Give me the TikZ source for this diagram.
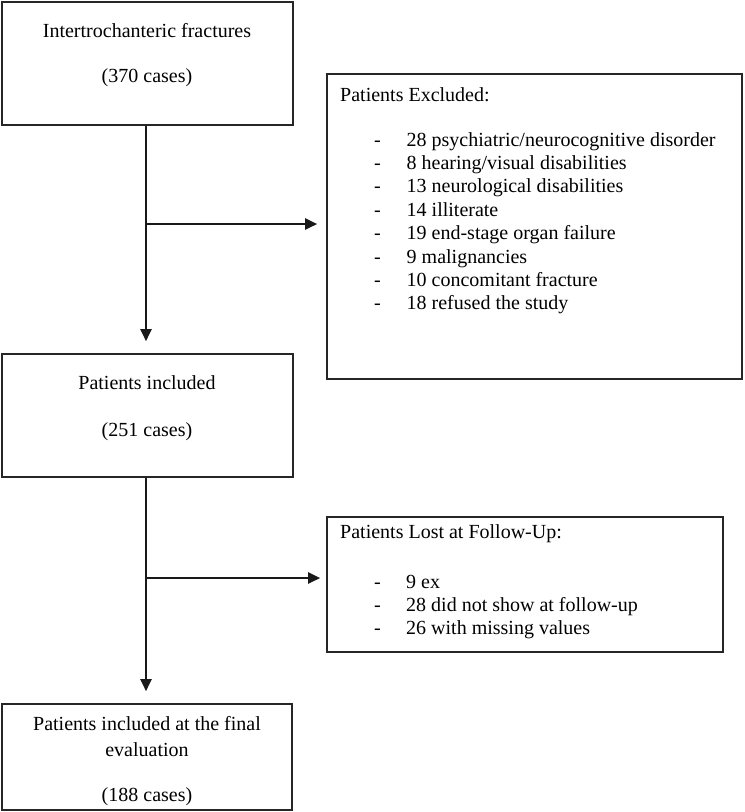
\documentclass[tikz,border=0pt]{standalone}
\usepackage{fontspec}
\setmainfont{Liberation Serif}
\usetikzlibrary{arrows.meta}
\begin{document}
\begin{tikzpicture}[x=1pt,y=-1pt,
  box/.style={draw=black!85,line width=1.6pt,inner sep=0pt,fill=white},
  txt/.style={inner sep=0pt,font=\fontsize{20}{24}\selectfont},
  flow/.style={line width=2.4pt,draw=black!90,-{Triangle[length=12pt,width=11pt]}},
  plain/.style={line width=2.4pt,draw=black!90}]
\useasboundingbox (0,0) rectangle (745,812);
% boxes
\node[box,minimum width=291pt,minimum height=123pt] (b1) at (147.5,63.5) {};
\node[box,minimum width=415pt,minimum height=305pt] (b2) at (534.5,226.5) {};
\node[box,minimum width=291pt,minimum height=123pt] (b3) at (147.5,415.5) {};
\node[box,minimum width=396pt,minimum height=135pt] (b4) at (525,584.5) {};
\node[box,minimum width=290pt,minimum height=106pt] (b5) at (147,757) {};
% box 1 text
\node[txt,anchor=base] (t1a) at (147,37) {Intertrochanteric fractures};
\node[txt,anchor=base] (t1b) at (147,82) {(370 cases)};
% box 2 text
\node[txt,anchor=base west] (t2) at (340,101) {Patients Excluded:};
\foreach \yy/\tt [count=\i] in {146/{28 psychiatric/neurocognitive disorder},
  169.4/{8 hearing/visual disabilities},
  192.8/{13 neurological disabilities},
  216.2/{14 illiterate},
  239.6/{19 end-stage organ failure},
  263/{9 malignancies},
  286.4/{10 concomitant fracture},
  309.8/{18 refused the study}}{
  \node[txt,anchor=base west] (d2\i) at (374,\yy) {-};
  \node[txt,anchor=base west] (e2\i) at (406.5,\yy) {\tt};
}
% box 3 text
\node[txt,anchor=base] (t3a) at (147,389) {Patients included};
\node[txt,anchor=base] (t3b) at (147,436) {(251 cases)};
% box 4 text
\node[txt,anchor=base west] (t4) at (340,538) {Patients Lost at Follow-Up:};
\foreach \yy/\tt [count=\i] in {588.5/{9 ex},611.5/{28 did not show at follow-up},634/{26 with missing values}}{
  \node[txt,anchor=base west] (d4\i) at (374,\yy) {-};
  \node[txt,anchor=base west] (e4\i) at (406,\yy) {\tt};
}
% box 5 text
\node[txt,anchor=base] (t5a) at (147,730.5) {Patients included at the final};
\node[txt,anchor=base] (t5b) at (147,756.5) {evaluation};
\node[txt,anchor=base] (t5c) at (147,801.5) {(188 cases)};
% connectors
\coordinate (j1) at (146,224);
\coordinate (j2) at (146,578);
\draw[flow,shorten >=12pt] (b1.south -| j1) -- (b3.north -| j1);
\draw[flow,shorten >=9pt] (j1) -- (j1 -| b2.west);
\draw[flow,shorten >=12pt] (b3.south -| j2) -- (b5.north -| j2);
\draw[flow,shorten >=6pt] (j2) -- (j2 -| b4.west);
\end{tikzpicture}
\end{document}
